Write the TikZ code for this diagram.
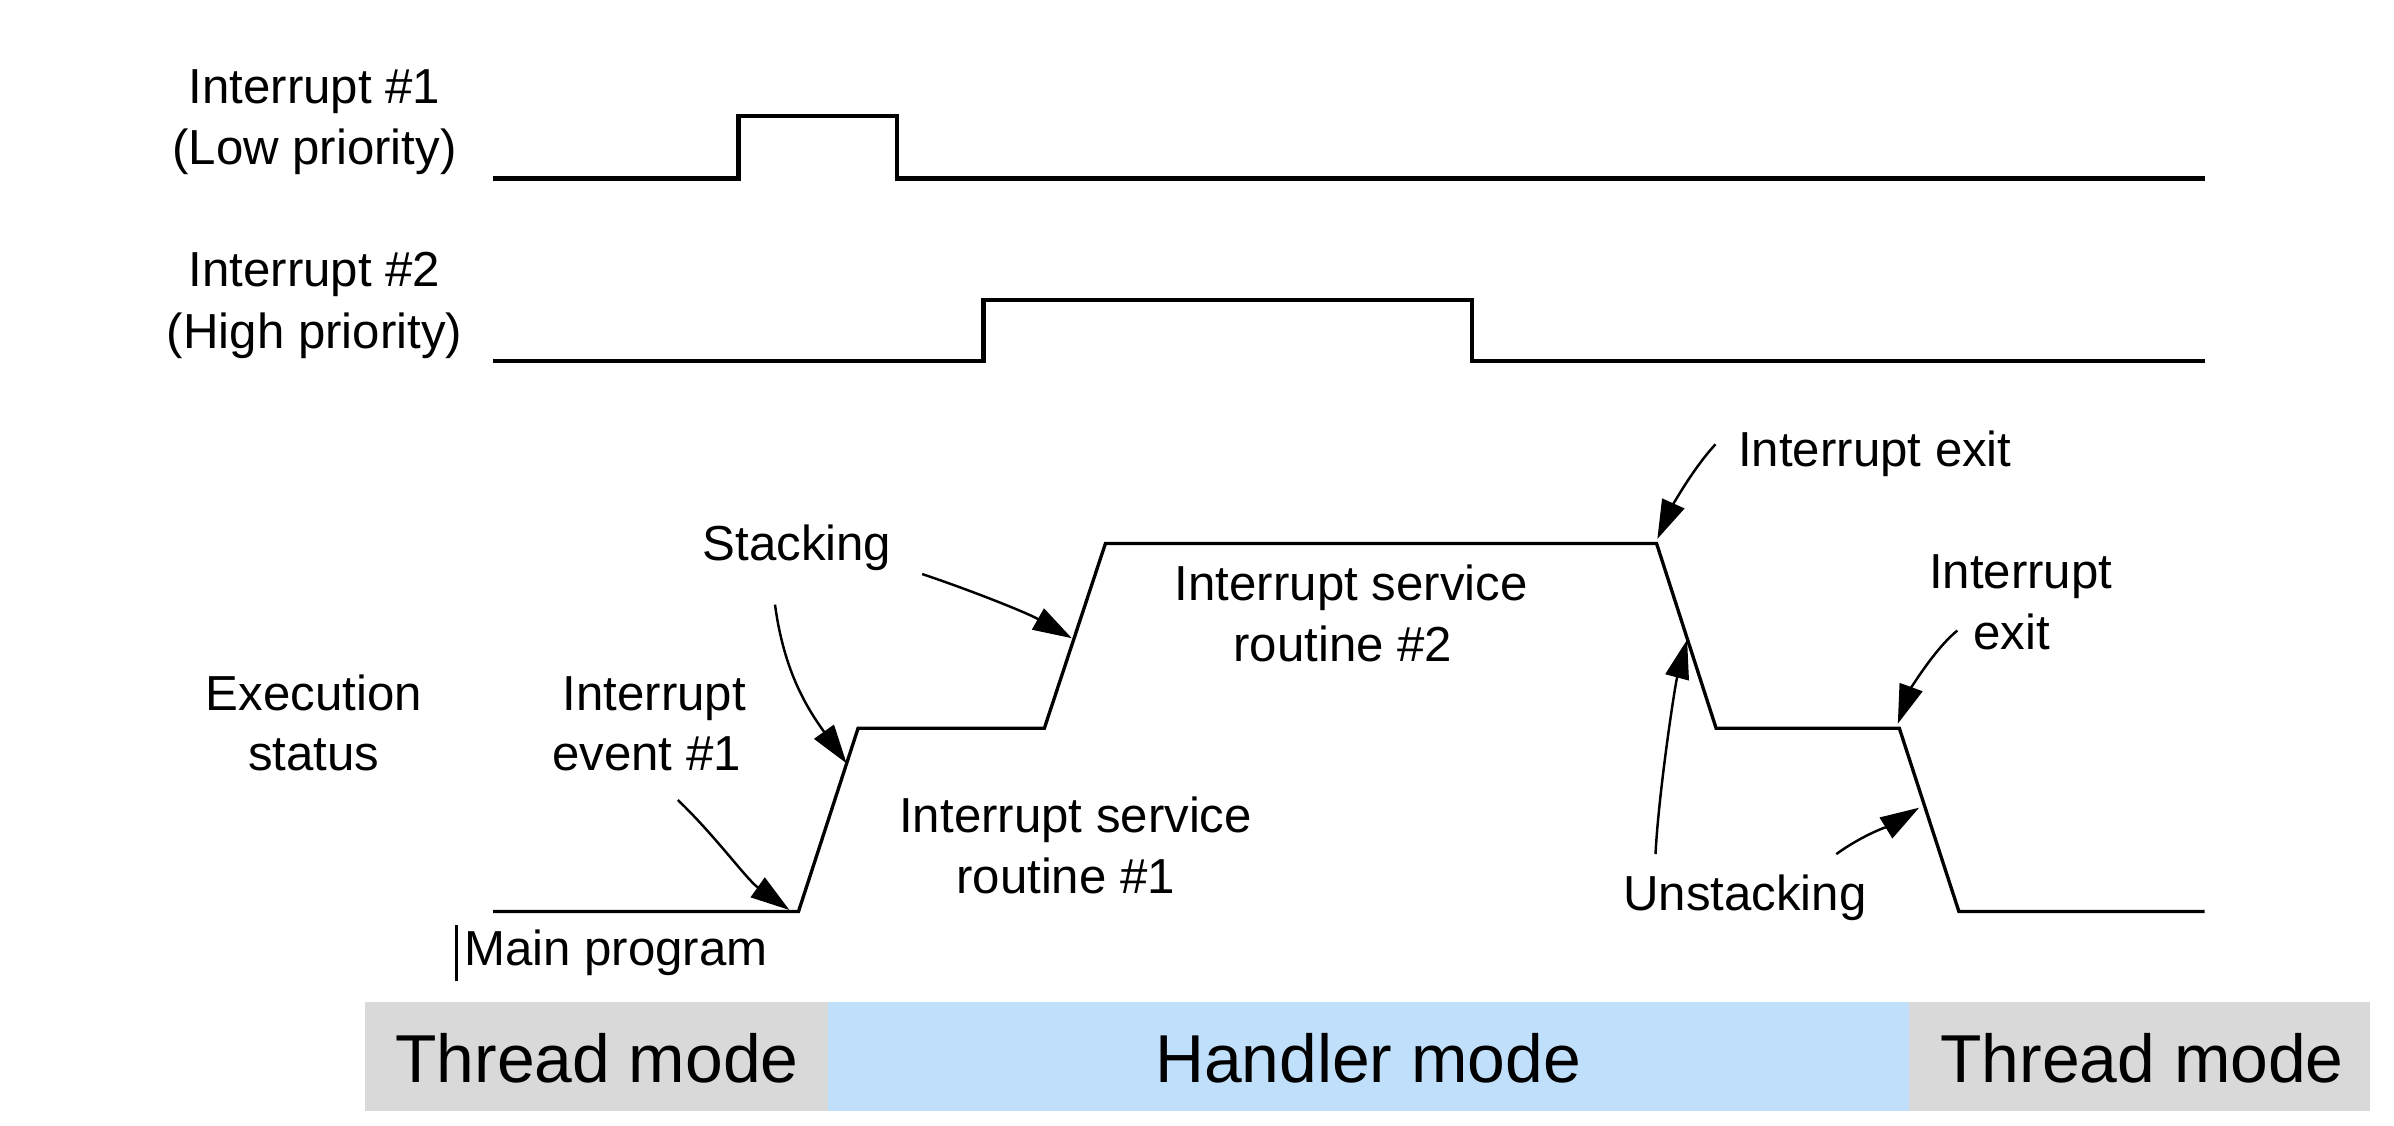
\documentclass[tikz,border=0pt]{standalone}
\usepackage{fontspec}
\setmainfont{Liberation Sans}
\usetikzlibrary{arrows.meta}
\definecolor{threadgray}{RGB}{217,217,217}
\definecolor{handlerblue}{RGB}{191,223,251}
\tikzset{
	lbl/.style={font=\fontsize{14}{17}\selectfont, inner sep=0pt, anchor=base},
	modetxt/.style={font=\fontsize{19.3}{23}\selectfont, inner sep=0pt, anchor=base},
	signal/.style={line width=1.3pt},
	status/.style={line width=0.95pt},
	pointer/.style={line width=0.7pt, -{Triangle[length=3.9mm,width=2.4mm]}},
}
\begin{document}
\begin{tikzpicture}[x=0.015268cm, y=-0.015268cm]
			\useasboundingbox (0,0) rectangle (1568,737);
			% mode bars
			\fill[threadgray] (239,656) rectangle (542,727.4);
			\fill[handlerblue] (542,656) rectangle (1250,727.4);
			\fill[threadgray] (1250,656) rectangle (1552,727.4);
			\foreach \n/\x/\t in {thra/391/Thread mode, hand/896/Handler mode, thrb/1403/Thread mode}{
				\node[modetxt] (\n) at (\x,708.7) {\t};
			}
			% interrupt lines
			\draw[signal] (323,116.8) -- (483.7,116.8) -- (483.7,76) -- (587.5,76) -- (587.5,116.8) -- (1444.4,116.8);
			\draw[signal] (323,236.4) -- (644,236.4) -- (644,196.5) -- (964,196.5) -- (964,236.4) -- (1444.4,236.4);
			% execution status
			\foreach \n/\x/\y in {m0/323/597, m1/523/597, s1/562/477, s2/684/477, t1/724/356,
				t2/1085/356, u1/1124/477, u2/1244/477, v1/1283/597, v2/1444/597}{
				\coordinate (\n) at (\x,\y);
			}
			\draw[status] (m0) -- (m1) -- (s1) -- (s2) -- (t1) -- (t2) -- (u1) -- (u2) -- (v1) -- (v2);
			% labels
			\foreach \n/\x/\y/\t in {ia/206/68/Interrupt \#1, ib/206/107.5/(Low priority),
				ic/206/187.5/Interrupt \#2, id/206/228/(High priority),
				exa/205.5/465.6/Execution, exb/205.5/504.8/status,
				eva/428.5/465.6/Interrupt, evb/423.5/504.8/event \#1,
				stk/522/367/Stacking, main/403.5/632.4/Main program,
				isra/704.5/545/Interrupt service, isrb/698/585/routine \#1,
				isrc/885/393.5/Interrupt service, isrd/879.5/433.5/routine \#2,
				exta/1323.5/385.5/Interrupt, extb/1317.6/425.4/exit,
				unstk/1142.8/596.2/Unstacking}{
				\node[lbl] (\n) at (\x,\y) {\t};
			}
			\node[lbl, anchor=base west] (exit) at (1138,305.5) {Interrupt exit};
			\draw[line width=0.8pt] (299,606) -- (299,642.7);
			% callout arrows
			\foreach \n/\x/\y in {ta/444/524, ha/517/596, tb/507.6/396, hb/554.5/500,
				tc/604/376, hc/702/418, td/1123.6/291, hd/1085.5/353,
				te/1084.3/559.4, he/1105/419, tf/1202.7/559.4, hf/1257/529,
				tg/1282/413, hg/1243/474}{
				\coordinate (\n) at (\x,\y);
			}
			\foreach \p/\q/\c/\d in {ta/ha/{25,24}/{-28,-20}, tb/hb/{6,45}/{-25,-35},
				tc/hc/{30,10}/{-30,-17}, td/hd/{-15,16}/{9,-20}, te/he/{2,-40}/{-8,30},
				tf/hf/{18,-13}/{-18,11}, tg/hg/{-15,12}/{8,-22}}{
				\draw[pointer] (\p) .. controls +(\c) and +(\d) .. (\q);
			}
\end{tikzpicture}
\end{document}
